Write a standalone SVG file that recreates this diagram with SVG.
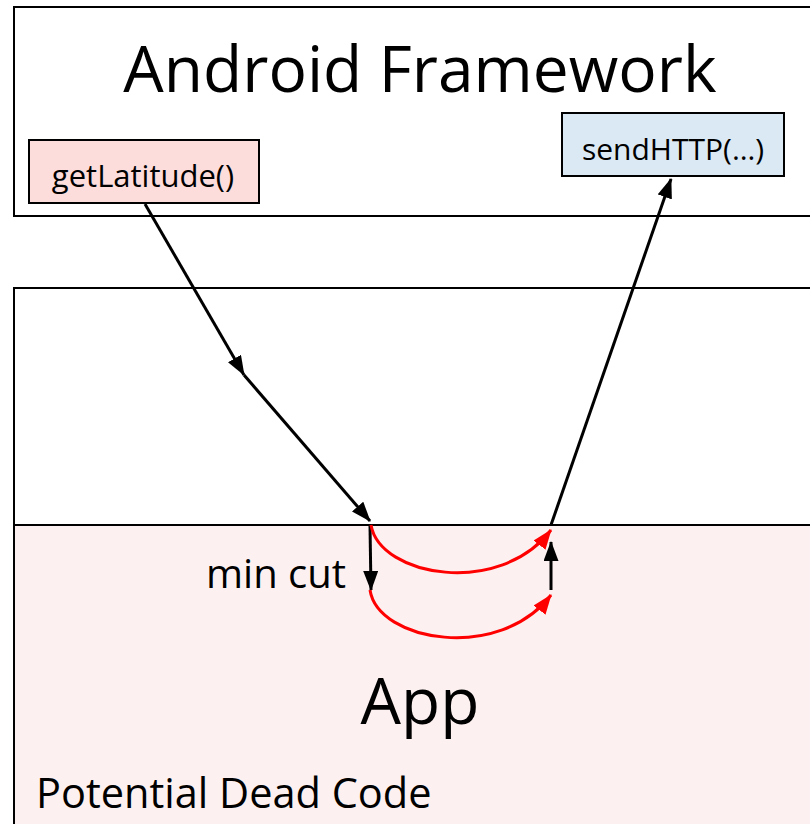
<svg xmlns="http://www.w3.org/2000/svg" width="810" height="824" viewBox="0 0 810 824">
<style>
text{font-family:"Open Sans","Liberation Sans",sans-serif;fill:#000}
.frame{fill:#fff;stroke:#000;stroke-width:2}
.blk{stroke:#000;stroke-width:3;fill:none}
.red{stroke:#f00;stroke-width:3;fill:none}
</style>
<defs>
<marker id="ahb" markerWidth="20" markerHeight="15" refX="19" refY="7.5" orient="auto" markerUnits="userSpaceOnUse" viewBox="0 0 20 15"><path d="M0,0 L20,7.5 L0,15 z" fill="#000"/></marker>
<marker id="ahr" markerWidth="20" markerHeight="15" refX="19" refY="7.5" orient="auto" markerUnits="userSpaceOnUse" viewBox="0 0 20 15"><path d="M0,0 L20,7.5 L0,15 z" fill="#f00"/></marker>
</defs>
<rect width="810" height="824" fill="#fff"/>
<g id="framework">
<rect class="frame" x="14" y="7" width="810" height="209"/>
<text x="420" y="92" font-size="64" text-anchor="middle">Android Framework</text>
</g>
<g id="app">
<rect class="frame" x="14" y="288" width="810" height="560"/>
<rect x="15" y="525" width="800" height="300" fill="#fdf0f0"/>
<line x1="14" y1="525" x2="810" y2="525" stroke="#000" stroke-width="2"/>
<line x1="14" y1="288" x2="14" y2="824" stroke="#000" stroke-width="2"/>
<text x="420" y="724" font-size="64" text-anchor="middle">App</text>
<text x="36" y="808" font-size="41.5">Potential Dead Code</text>
<text x="206" y="588" font-size="40">min cut</text>
</g>
<g id="getLatitude">
<rect x="29" y="140" width="230" height="63" fill="#fddcdc" stroke="#000" stroke-width="2"/>
<text x="143" y="187" font-size="31" text-anchor="middle">getLatitude()</text>
</g>
<g id="sendHTTP">
<rect x="562" y="113" width="222" height="63" fill="#dbe9f4" stroke="#000" stroke-width="2"/>
<text x="673" y="160" font-size="30" text-anchor="middle">sendHTTP(…)</text>
</g>
<g id="connectors">
<line class="blk" x1="145" y1="204" x2="244" y2="375" marker-end="url(#ahb)"/>
<line class="blk" x1="244" y1="375" x2="370" y2="521" marker-end="url(#ahb)"/>
<line class="blk" x1="551" y1="525" x2="671" y2="179" marker-end="url(#ahb)"/>
<line class="blk" x1="370" y1="526" x2="371" y2="590" marker-end="url(#ahb)"/>
<line class="blk" x1="551" y1="590" x2="551" y2="542" marker-end="url(#ahb)"/>
<path class="red" d="M371,525 C380,577 500,597 551,530" marker-end="url(#ahr)"/>
<path class="red" d="M370,590 C378,642 500,662 551,595" marker-end="url(#ahr)"/>
</g>
</svg>
